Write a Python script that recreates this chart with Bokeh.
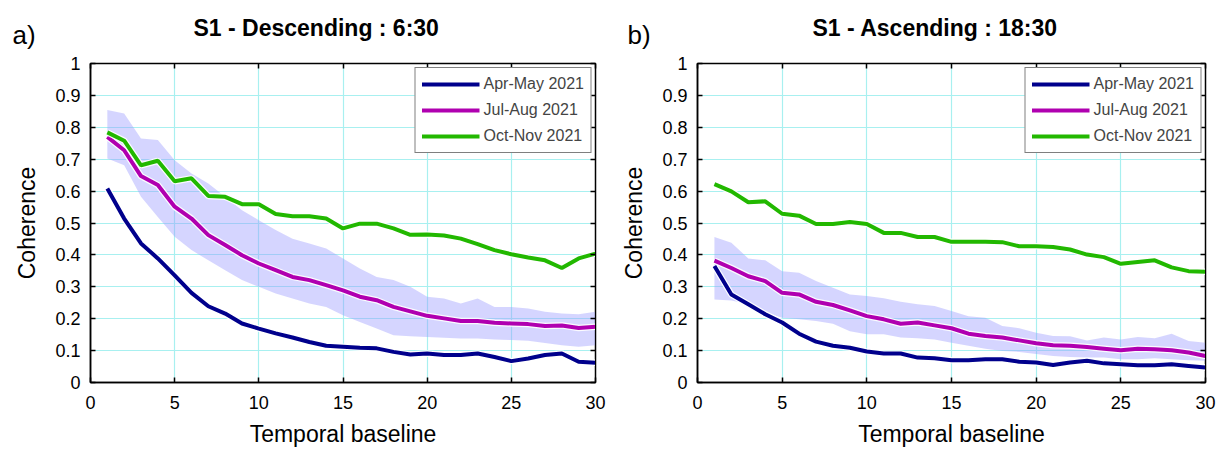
from bokeh.plotting import figure
from bokeh.layouts import row, column
from bokeh.models import (Range1d, FixedTicker, LinearAxis, CustomJSTickFormatter,
                          Legend, LegendItem, Label)
from bokeh.embed import file_html
from bokeh.resources import INLINE

# ---------------- data ----------------
baseline = list(range(1, 31))
x_ticks = [0, 5, 10, 15, 20, 25, 30]
y_ticks = [0, 0.1, 0.2, 0.3, 0.4, 0.5, 0.6, 0.7, 0.8, 0.9, 1]
series_names = ["Apr-May 2021", "Jul-Aug 2021", "Oct-Nov 2021"]
panel_titles = ["S1 - Descending : 6:30", "S1 - Ascending : 18:30"]
panel_tags = ["a)", "b)"]

# S1 - Descending : 6:30
desc_apr_may = [0.608, 0.514, 0.436, 0.389, 0.336, 0.281, 0.239, 0.216, 0.185, 0.169,
                0.154, 0.141, 0.127, 0.115, 0.112, 0.109, 0.107, 0.096, 0.088, 0.091,
                0.086, 0.086, 0.091, 0.080, 0.067, 0.075, 0.086, 0.091, 0.065, 0.062]
desc_jul_aug = [0.770, 0.728, 0.647, 0.619, 0.551, 0.514, 0.462, 0.431, 0.399, 0.373,
                0.352, 0.331, 0.321, 0.305, 0.289, 0.269, 0.258, 0.237, 0.223, 0.209,
                0.201, 0.193, 0.193, 0.187, 0.185, 0.183, 0.177, 0.179, 0.171, 0.175]
desc_oct_nov = [0.784, 0.758, 0.681, 0.695, 0.631, 0.640, 0.585, 0.582, 0.559, 0.559,
                0.528, 0.521, 0.521, 0.514, 0.483, 0.498, 0.498, 0.483, 0.463, 0.464,
                0.461, 0.451, 0.434, 0.415, 0.402, 0.392, 0.383, 0.359, 0.389, 0.404]
desc_band_upper = [0.854, 0.843, 0.765, 0.760, 0.697, 0.655, 0.624, 0.582, 0.540, 0.509,
                   0.478, 0.451, 0.436, 0.420, 0.389, 0.357, 0.331, 0.321, 0.300, 0.269,
                   0.263, 0.248, 0.263, 0.237, 0.237, 0.232, 0.222, 0.216, 0.214, 0.222]
desc_band_lower = [0.702, 0.681, 0.582, 0.519, 0.457, 0.415, 0.383, 0.352, 0.321, 0.300,
                   0.279, 0.263, 0.248, 0.237, 0.211, 0.190, 0.169, 0.148, 0.145, 0.143,
                   0.140, 0.138, 0.138, 0.135, 0.133, 0.131, 0.124, 0.117, 0.112, 0.117]

# S1 - Ascending : 18:30
asc_apr_may = [0.365, 0.276, 0.245, 0.214, 0.188, 0.153, 0.128, 0.115, 0.109, 0.097,
               0.091, 0.091, 0.078, 0.076, 0.070, 0.070, 0.073, 0.073, 0.065, 0.063,
               0.055, 0.063, 0.068, 0.060, 0.057, 0.054, 0.054, 0.057, 0.052, 0.047]
asc_jul_aug = [0.382, 0.359, 0.333, 0.318, 0.281, 0.276, 0.253, 0.243, 0.226, 0.208,
               0.198, 0.184, 0.188, 0.179, 0.170, 0.153, 0.146, 0.141, 0.132, 0.123,
               0.117, 0.115, 0.111, 0.106, 0.101, 0.106, 0.104, 0.101, 0.094, 0.083]
asc_oct_nov = [0.622, 0.599, 0.565, 0.568, 0.529, 0.523, 0.497, 0.497, 0.503, 0.497,
               0.469, 0.469, 0.456, 0.456, 0.441, 0.441, 0.441, 0.440, 0.427, 0.427,
               0.425, 0.417, 0.401, 0.393, 0.372, 0.378, 0.383, 0.361, 0.349, 0.347]
asc_band_upper = [0.456, 0.438, 0.389, 0.383, 0.349, 0.344, 0.318, 0.297, 0.276, 0.271,
                  0.264, 0.253, 0.245, 0.240, 0.224, 0.208, 0.203, 0.177, 0.170, 0.156,
                  0.146, 0.145, 0.132, 0.141, 0.135, 0.143, 0.139, 0.153, 0.130, 0.125]
asc_band_lower = [0.260, 0.257, 0.245, 0.219, 0.203, 0.198, 0.193, 0.184, 0.161, 0.151,
                  0.151, 0.141, 0.139, 0.135, 0.125, 0.115, 0.106, 0.099, 0.096, 0.089,
                  0.083, 0.080, 0.078, 0.078, 0.073, 0.073, 0.076, 0.073, 0.070, 0.068]

# ---------------- style ----------------
COLORS = ["#00008c", "#b000b0", "#22b800"]
BAND = "#9c9cff"
GRID = "#a8f0f0"
FONT = "Liberation Sans"
HEADER_H = 50
PAGE_W = 1217

num_fmt = CustomJSTickFormatter(code="return String(Math.round(tick*10)/10);")


def make_panel(series, upper, lower, width, bl, br, bt, bb):
    p = figure(width=width, height=450 - HEADER_H, output_backend="svg",
               toolbar_location=None,
               x_range=Range1d(0, 30), y_range=Range1d(0, 1),
               min_border_left=bl, min_border_right=br,
               min_border_top=bt, min_border_bottom=bb,
               background_fill_color="white", border_fill_color="white")
    p.outline_line_color = "black"
    p.outline_line_width = 1.5

    for ax in (p.xaxis[0], p.yaxis[0]):
        ax.major_tick_in = 5
        ax.major_tick_out = 0
        ax.minor_tick_line_color = None
        ax.axis_line_color = "black"
        ax.axis_line_width = 1.5
        ax.major_tick_line_color = "black"
        ax.major_tick_line_width = 1.5
        ax.major_label_text_font = FONT
        ax.major_label_text_font_size = "18px"
        ax.major_label_text_color = "black"
        ax.axis_label_text_font = FONT
        ax.axis_label_text_font_style = "normal"
        ax.axis_label_text_font_size = "23px"
        ax.axis_label_text_color = "black"
        ax.formatter = num_fmt
    p.xaxis.ticker = FixedTicker(ticks=x_ticks)
    p.yaxis.ticker = FixedTicker(ticks=y_ticks)
    p.xaxis.axis_label = "Temporal baseline"
    p.yaxis.axis_label = "Coherence"
    p.xaxis.major_label_standoff = 13
    p.xaxis.axis_label_standoff = 9
    p.yaxis.major_label_standoff = 10
    p.yaxis.axis_label_standoff = 12

    # box ticks on top and right
    blank = CustomJSTickFormatter(code="return '';")
    top = LinearAxis(ticker=FixedTicker(ticks=x_ticks), formatter=blank,
                     major_tick_in=5, major_tick_out=0, major_label_standoff=0,
                     major_label_text_font_size="0px", minor_tick_line_color=None,
                     axis_line_color="black", major_tick_line_width=1.5)
    right = LinearAxis(ticker=FixedTicker(ticks=y_ticks), formatter=blank,
                       major_tick_in=5, major_tick_out=0, major_label_standoff=0,
                       major_label_text_font_size="0px", minor_tick_line_color=None,
                       axis_line_color="black", major_tick_line_width=1.5)
    p.add_layout(top, "above")
    p.add_layout(right, "right")

    p.xgrid.ticker = FixedTicker(ticks=x_ticks)
    p.ygrid.ticker = FixedTicker(ticks=y_ticks)
    for g in (p.xgrid[0], p.ygrid[0]):
        g.grid_line_color = GRID
        g.grid_line_width = 1.2

    p.varea(x=baseline, y1=lower, y2=upper, fill_color=BAND, fill_alpha=0.42)

    items = []
    for name, ys, c in zip(series_names, series, COLORS):
        p.line(baseline, ys, line_color="white", line_width=6.5, line_alpha=0.9)
        r = p.line(baseline, ys, line_color=c, line_width=4)
        items.append(LegendItem(label=name, renderers=[r]))

    leg = Legend(items=items, location="top_right", margin=4, padding=6,
                 spacing=6, label_height=20, glyph_height=20, glyph_width=58,
                 label_standoff=4, border_line_color="black", border_line_width=1.5,
                 label_text_font=FONT, label_text_font_size="16px",
                 background_fill_color="white", background_fill_alpha=1)
    p.add_layout(leg)
    return p


# header strip carrying panel titles and tags (pixel-valued ranges, y down)
header = figure(width=PAGE_W, height=HEADER_H, output_backend="svg",
                toolbar_location=None, x_axis_type=None, y_axis_type=None,
                x_range=Range1d(0, PAGE_W), y_range=Range1d(HEADER_H, 0),
                min_border=0, min_border_left=0, min_border_right=0,
                min_border_top=0, min_border_bottom=0,
                outline_line_color=None, background_fill_color="white",
                border_fill_color="white")
header.grid.visible = False
title_pos = [(193, 27), (812, 27)]
tag_pos = [(12, 34), (627, 34)]
for t, (tx, ty) in zip(panel_titles, title_pos):
    header.add_layout(Label(x=tx, y=ty, text=t, text_font=FONT,
                            text_font_style="bold", text_font_size="23px",
                            text_color="black", text_baseline="middle"))
for t, (tx, ty) in zip(panel_tags, tag_pos):
    header.add_layout(Label(x=tx, y=ty, text=t, text_font=FONT,
                            text_font_size="26px", text_color="black",
                            text_baseline="middle"))

p1 = make_panel([desc_apr_may, desc_jul_aug, desc_oct_nov],
                desc_band_upper, desc_band_lower,
                width=610, bl=90, br=15, bt=63 - HEADER_H, bb=68)
p2 = make_panel([asc_apr_may, asc_jul_aug, asc_oct_nov],
                asc_band_upper, asc_band_lower,
                width=607, bl=87, br=12, bt=62 - HEADER_H, bb=68)

layout = column(header, row(p1, p2))
open("out.html", "w").write(file_html(layout, INLINE))
